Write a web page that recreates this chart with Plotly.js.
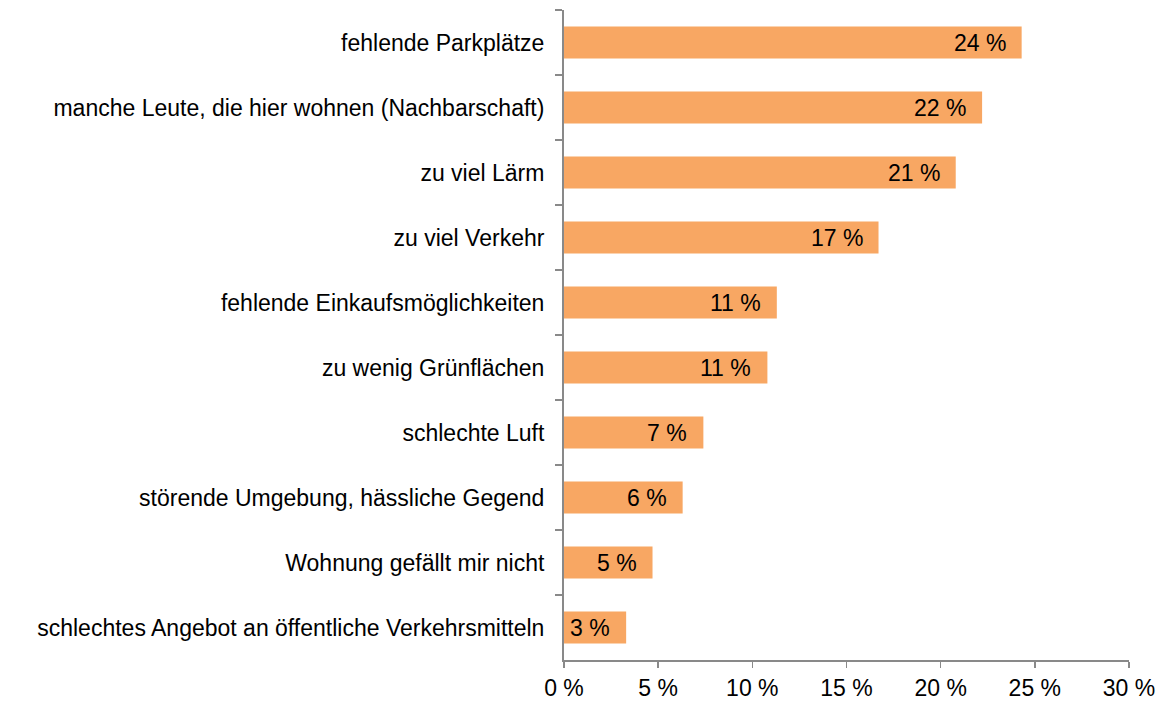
<!DOCTYPE html>
<html>
<head>
<meta charset="utf-8">
<script src="https://cdn.plot.ly/plotly-3.0.1.min.js"></script>
<style>
html,body{margin:0;padding:0;background:#fff;}
#chart{width:1163px;height:704px;}
</style>
</head>
<body>
<div id="chart"></div>
<script>
const categories = [
  "fehlende Parkplätze",
  "manche Leute, die hier wohnen (Nachbarschaft)",
  "zu viel Lärm",
  "zu viel Verkehr",
  "fehlende Einkaufsmöglichkeiten",
  "zu wenig Grünflächen",
  "schlechte Luft",
  "störende Umgebung, hässliche Gegend",
  "Wohnung gefällt mir nicht",
  "schlechtes Angebot an öffentliche Verkehrsmitteln"
];
const values = [24.3, 22.2, 20.8, 16.7, 11.3, 10.8, 7.4, 6.3, 4.7, 3.3];
const valueLabels = ["24 %", "22 %", "21 %", "17 %", "11 %", "11 %", "7 %", "6 %", "5 %", "3 %"];
const xTickValues = [0, 5, 10, 15, 20, 25, 30];
const xTickLabels = ["0 %", "5 %", "10 %", "15 %", "20 %", "25 %", "30 %"];

const FONT = "'Liberation Sans', Arial, sans-serif";
const FS = 23;
const AXIS_COLOR = "#898989";

const trace = {
  type: "bar",
  orientation: "h",
  x: values,
  y: categories,
  marker: {color: "#F8A763"},
  hoverinfo: "none",
  width: 0.49
};

const annotations = values.map((v, i) => ({
  x: v, y: categories[i], xref: "x", yref: "y",
  text: valueLabels[i],
  showarrow: false,
  xanchor: "right", yanchor: "middle",
  xshift: -14,
  font: {family: FONT, size: FS, color: "#000"}
}));

const layout = {
  width: 1163, height: 704,
  margin: {l: 564, r: 34, t: 10, b: 44, pad: 0},
  paper_bgcolor: "#fff", plot_bgcolor: "#fff",
  showlegend: false,
  font: {family: FONT, size: FS, color: "#000"},
  xaxis: {
    range: [0, 30],
    tickmode: "array",
    tickvals: xTickValues,
    ticktext: xTickLabels,
    showgrid: false, zeroline: false,
    showline: true, linecolor: AXIS_COLOR, linewidth: 2,
    ticks: "outside", ticklen: 6, tickwidth: 1.5, tickcolor: AXIS_COLOR,
    tickfont: {family: FONT, size: FS, color: "#000"},
    fixedrange: true
  },
  yaxis: {
    type: "category",
    categoryorder: "array",
    categoryarray: categories,
    autorange: "reversed",
    showgrid: false, zeroline: false,
    showline: true, linecolor: AXIS_COLOR, linewidth: 2,
    ticks: "outside", ticklen: 7, tickwidth: 1.5, tickcolor: AXIS_COLOR,
    tickson: "boundaries",
    ticklabelstandoff: 13,
    tickfont: {family: FONT, size: FS, color: "#000"},
    fixedrange: true
  },
  annotations: annotations
};

Plotly.newPlot("chart", [trace], layout, {displayModeBar: false, staticPlot: true});
</script>
</body>
</html>
